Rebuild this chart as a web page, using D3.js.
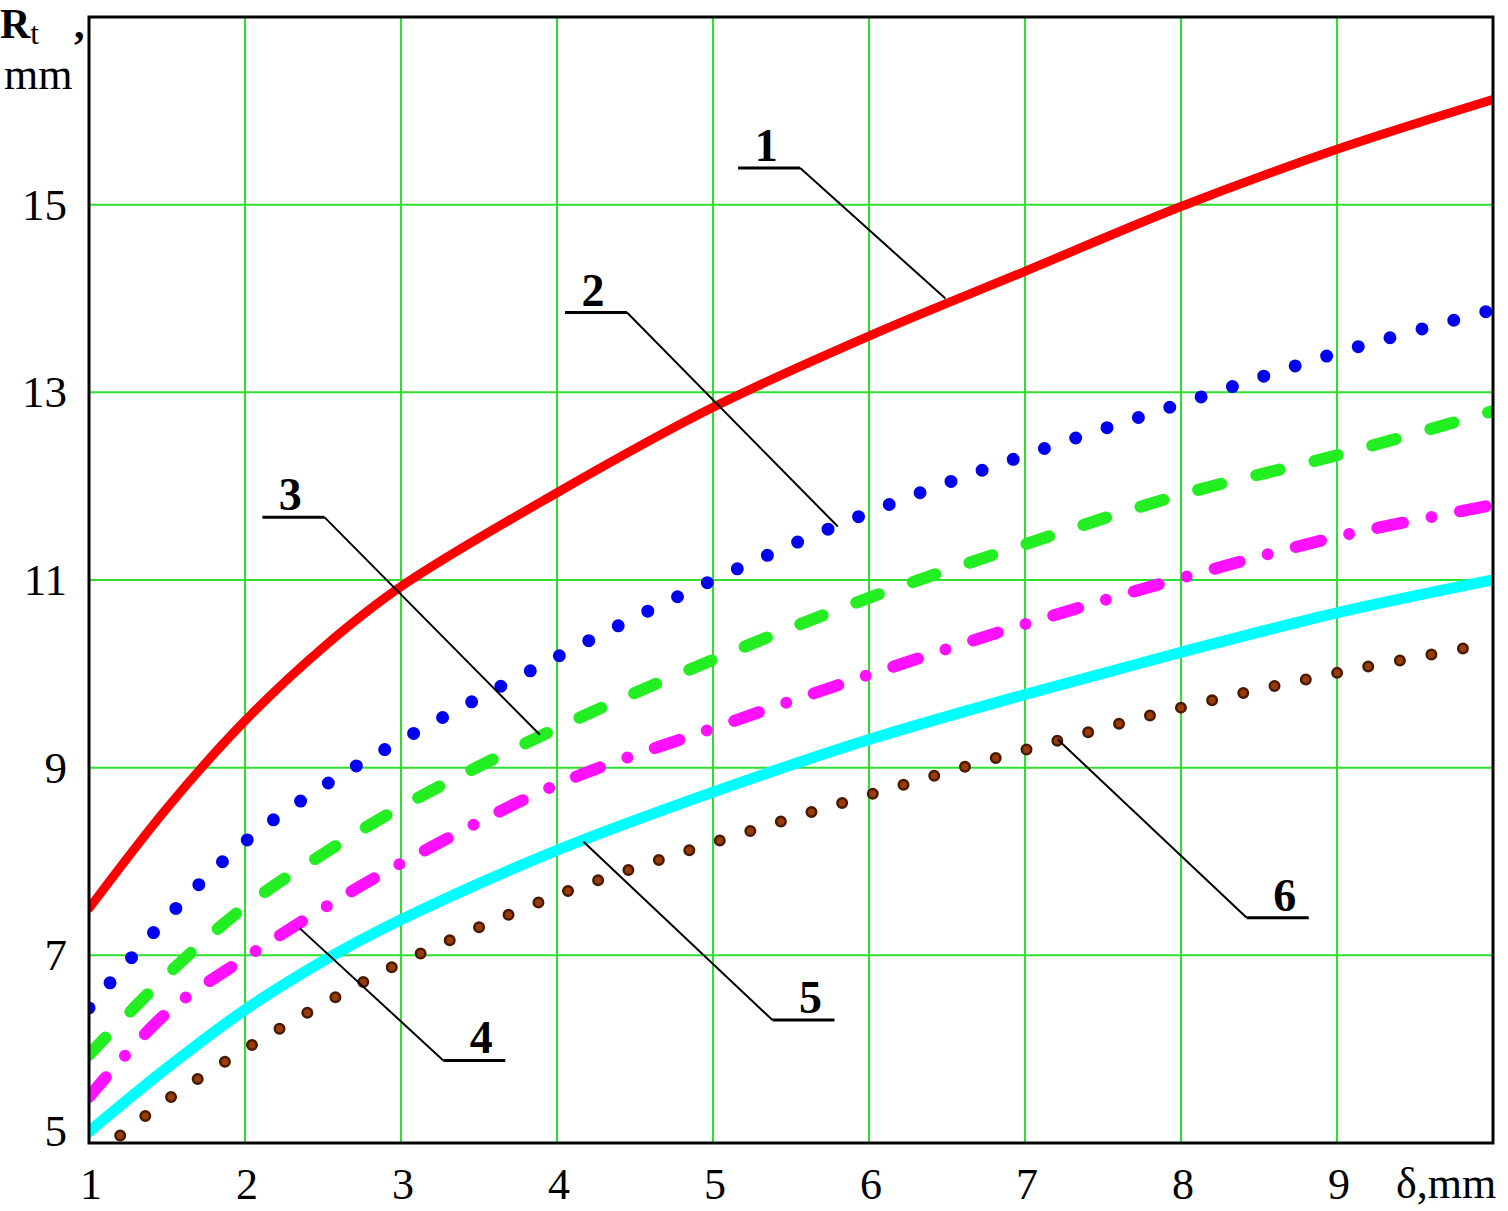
<!DOCTYPE html>
<html>
<head>
<meta charset="utf-8">
<script src="https://cdn.jsdelivr.net/npm/d3@7"></script>
<style>
  html, body { margin: 0; padding: 0; background: #fff; }
  svg { display: block; }
  text { font-family: "Liberation Serif", "Times New Roman", serif; fill: #000; }
</style>
</head>
<body>
<div id="chart"></div>
<script>
// R_t vs delta, six curves
const delta = [1, 1.5, 2, 2.5, 3, 4, 5, 6, 7, 8, 9, 10];
const delta6 = [1.2, 1.5, 2, 2.5, 3, 4, 5, 6, 7, 8, 9, 10];
const curve1 = [7.5, 8.57, 9.5, 10.28, 10.93, 11.93, 12.84, 13.6, 14.29, 14.98, 15.59, 16.12];
const curve2 = [6.44, 7.4, 8.21, 8.8, 9.29, 10.18, 11.0, 11.72, 12.33, 12.88, 13.42, 13.88];
const curve3 = [5.94, 6.79, 7.52, 8.08, 8.58, 9.42, 10.15, 10.81, 11.38, 11.91, 12.33, 12.8];
const curve4 = [5.49, 6.39, 6.97, 7.5, 7.98, 8.82, 9.42, 9.99, 10.53, 11.02, 11.46, 11.8];
const curve5 = [5.12, 5.8, 6.42, 6.94, 7.38, 8.12, 8.74, 9.3, 9.78, 10.23, 10.65, 11.0];
const curve6 = [5.08, 5.46, 6.0, 6.48, 6.92, 7.64, 8.2, 8.71, 9.19, 9.64, 10.01, 10.33];
const xTicks = [1, 2, 3, 4, 5, 6, 7, 8, 9];
const yTicks = [5, 7, 9, 11, 13, 15];
const curveLabels = ['1', '2', '3', '4', '5', '6'];

const W = 1508, H = 1211;
const m = {top: 17, right: 15, bottom: 68, left: 89};

const svg = d3.select('#chart').append('svg')
  .attr('width', W).attr('height', H);

const x = d3.scaleLinear().domain([1, 10]).range([m.left, W - m.right]);
const y = d3.scaleLinear().domain([5, 17]).range([H - m.bottom, m.top]);

svg.append('defs').append('clipPath').attr('id', 'clip')
  .append('rect')
  .attr('x', m.left).attr('y', m.top)
  .attr('width', x(10) - m.left).attr('height', y(5) - m.top);

// grid
const grid = svg.append('g');
grid.selectAll('line.v').data(d3.range(2, 10)).enter().append('line')
  .attr('x1', d => x(d)).attr('x2', d => x(d))
  .attr('y1', y(5)).attr('y2', y(17))
  .attr('stroke', '#2ee02e').attr('stroke-width', 2);
grid.selectAll('line.h').data(yTicks.slice(1)).enter().append('line')
  .attr('x1', x(1)).attr('x2', x(10))
  .attr('y1', d => y(d)).attr('y2', d => y(d))
  .attr('stroke', '#2ee02e').attr('stroke-width', 2);

// curves
const line = d3.line().curve(d3.curveCatmullRom.alpha(0.5));
const pts = (xs, ys) => xs.map((d, i) => [x(d), y(ys[i])]);
const plot = svg.append('g').attr('clip-path', 'url(#clip)');

const series = [
  {xs: delta, ys: curve1, color: '#ff0000', width: 9, dash: null},
  {xs: delta, ys: curve2, color: '#0000f0', width: 13, dash: '0 33'},
  {xs: delta, ys: curve3, color: '#22ee22', width: 12, dash: '24 36'},
  {xs: delta, ys: curve4, color: '#ff10ff', width: 12, dash: '26 29 0 29'},
  {xs: delta, ys: curve5, color: '#00ffff', width: 11, dash: null}
];
series.forEach(s => {
  plot.append('path')
    .attr('d', line(pts(s.xs, s.ys)))
    .attr('fill', 'none')
    .attr('stroke', s.color)
    .attr('stroke-width', s.width)
    .attr('stroke-linecap', 'round')
    .attr('stroke-dasharray', s.dash);
});
// brown dots: dark rim + lighter core
plot.append('path')
  .attr('d', line(pts(delta6, curve6)))
  .attr('fill', 'none').attr('stroke', '#4a1a00').attr('stroke-width', 12)
  .attr('stroke-linecap', 'round').attr('stroke-dasharray', '0 32');
plot.append('path')
  .attr('d', line(pts(delta6, curve6)))
  .attr('fill', 'none').attr('stroke', '#9a3c0a').attr('stroke-width', 7)
  .attr('stroke-linecap', 'round').attr('stroke-dasharray', '0 32');

// frame
svg.append('rect')
  .attr('x', x(1)).attr('y', y(17))
  .attr('width', x(10) - x(1)).attr('height', y(5) - y(17))
  .attr('fill', 'none').attr('stroke', '#000').attr('stroke-width', 3);

// tick labels
svg.append('g').selectAll('text').data(xTicks).enter().append('text')
  .attr('x', d => x(d) + 2).attr('y', 1199)
  .attr('text-anchor', 'middle').attr('font-size', 44)
  .text(d => d);
svg.append('g').selectAll('text').data(yTicks).enter().append('text')
  .attr('x', 67).attr('y', d => Math.min(y(d) + 15, 1146))
  .attr('text-anchor', 'end').attr('font-size', 45)
  .text(d => d);

svg.append('text').attr('x', 1396).attr('y', 1198)
  .attr('font-size', 44).text('δ,mm');

const yl = svg.append('text').attr('x', 0).attr('y', 38).attr('font-size', 42);
yl.append('tspan').attr('font-weight', 'bold').text('R');
yl.append('tspan').attr('font-size', 32).attr('dy', 6).text('t');
svg.append('text').attr('x', 74).attr('y', 38).attr('font-size', 42)
  .attr('font-weight', 'bold').text(',');
svg.append('text').attr('x', 4).attr('y', 89).attr('font-size', 44).text('mm');

// curve callouts, in data units: underline centre and the point on the curve
const callX = [5.36, 4.25, 2.31, 3.47, 5.58, 8.62];
const callY = [15.39, 13.85, 11.67, 5.88, 6.31, 7.4];
const callEndX = [6.49, 5.8, 3.89, 2.35, 4.17, 7.21];
const callEndY = [14.0, 11.57, 9.35, 7.29, 8.21, 9.3];
const callSide = [1, 1, 1, -1, -1, -1];
const ann = svg.append('g');
curveLabels.forEach((lab, i) => {
  const ux = x(callX[i]), uy = y(callY[i]);
  const x0 = ux - 31, x1 = ux + 31;
  const lx = callSide[i] > 0 ? x1 : x0;
  ann.append('line').attr('x1', x0).attr('x2', x1).attr('y1', uy).attr('y2', uy)
    .attr('stroke', '#000').attr('stroke-width', 3);
  ann.append('line').attr('x1', lx).attr('y1', uy)
    .attr('x2', x(callEndX[i])).attr('y2', y(callEndY[i]))
    .attr('stroke', '#000').attr('stroke-width', 2);
  ann.append('text').attr('x', ux + (callSide[i] < 0 ? 7 : -3)).attr('y', uy - 7)
    .attr('text-anchor', 'middle').attr('font-size', 46).attr('font-weight', 'bold')
    .text(lab);
});
</script>
</body>
</html>
